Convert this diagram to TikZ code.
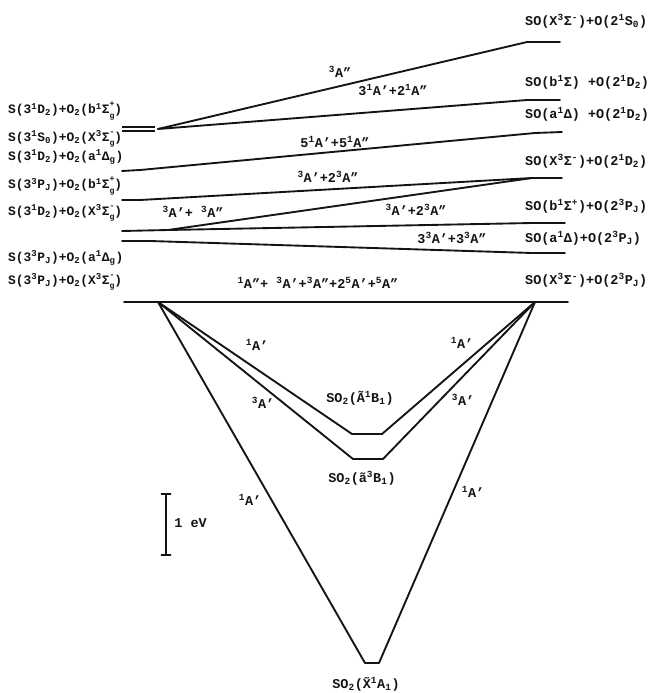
\documentclass[tikz,border=0pt]{standalone}
\usepackage{fontspec}
\setmainfont{Liberation Mono}
\usepackage{amsmath}
\usetikzlibrary{positioning}
\definecolor{ink}{HTML}{141414}
\newcommand\us[1]{\ensuremath{^{\text{#1}}}}
\newcommand\ds[1]{\ensuremath{_{\text{#1}}}}
\newcommand\uds[2]{\rlap{\raisebox{1.0ex}{\fontsize{7}{7}\selectfont#1}}\raisebox{-0.65ex}{\fontsize{7}{7}\selectfont#2}}
\tikzset{
  lvl/.style={draw=ink,line width=1.6pt,line cap=round,line join=round},
  dbl/.style={draw=ink,line width=0.9pt},
  elab/.style={inner sep=0pt,anchor=west,font=\fontsize{11.5}{13}\selectfont\bfseries,text=ink},
  elabl/.style={elab,font=\fontsize{11}{12}\selectfont\bfseries},
  slab/.style={inner sep=0pt,font=\fontsize{11.5}{13}\selectfont\bfseries,text=ink},
}

\begin{document}
\begin{tikzpicture}[x=0.03cm,y=-0.03cm]
  \useasboundingbox (0,0) rectangle (654,693);

  % asymptotes S + O2 (left)
  \foreach \i/\y/\lbl in {
    1/111/{S(3\us{1}D\ds{2})+O\ds{2}(b\us{1}Σ\uds{+}{g})},
    2/139/{S(3\us{1}S\ds{0})+O\ds{2}(X\us{3}Σ\uds{-}{g})},
    3/157/{S(3\us{1}D\ds{2})+O\ds{2}(a\us{1}Δ\ds{g})},
    4/186/{S(3\us{3}P\ds{J})+O\ds{2}(b\us{1}Σ\uds{+}{g})},
    5/213/{S(3\us{1}D\ds{2})+O\ds{2}(X\us{3}Σ\uds{-}{g})},
    6/258/{S(3\us{3}P\ds{J})+O\ds{2}(a\us{1}Δ\ds{g})},
    7/282/{S(3\us{3}P\ds{J})+O\ds{2}(X\us{3}Σ\uds{-}{g})}}{
    \node[elabl] (L\i) at (8,\y) {\lbl};
  }

  % asymptotes SO + O (right)
  \foreach \i/\y/\lbl in {
    1/21/{SO(X\us{3}Σ\us{-})+O(2\us{1}S\ds{0})},
    2/82/{SO(b\us{1}Σ) +O(2\us{1}D\ds{2})},
    3/114/{SO(a\us{1}Δ) +O(2\us{1}D\ds{2})},
    4/161/{SO(X\us{3}Σ\us{-})+O(2\us{1}D\ds{2})},
    5/206/{SO(b\us{1}Σ\us{+})+O(2\us{3}P\ds{J})},
    6/238/{SO(a\us{1}Δ)+O(2\us{3}P\ds{J})},
    7/280/{SO(X\us{3}Σ\us{-})+O(2\us{3}P\ds{J})}}{
    \node[elab] (R\i) at (525,\y) {\lbl};
  }

  % level ends
  \coordinate (a1) at (122,127); \coordinate (a2) at (155,127);
  \coordinate (b1) at (122,131); \coordinate (b2) at (155,131);
  \coordinate (ab) at (158,129);
  \coordinate (c1) at (122,171); \coordinate (c2) at (140,170);
  \coordinate (d1) at (122,200); \coordinate (d2) at (140,200);
  \coordinate (e1) at (122,231); \coordinate (e2) at (168,230);
  \coordinate (f1) at (122,241); \coordinate (f2) at (150,241);
  \coordinate (P) at (158,302);   \coordinate (Q) at (535,302);
  \coordinate (g1) at (124,302); \coordinate (g2) at (568,302);
  \coordinate (r1a) at (527,42);  \coordinate (r1b) at (560,42);
  \coordinate (r2a) at (527,100); \coordinate (r2b) at (560,100);
  \coordinate (r3a) at (535,133); \coordinate (r3b) at (562,132);
  \coordinate (r4a) at (532,178); \coordinate (r4b) at (562,178);
  \coordinate (r5a) at (532,223); \coordinate (r5b) at (565,223);
  \coordinate (r6a) at (532,253); \coordinate (r6b) at (565,253);

  % correlation lines
  \draw[dbl] (a1) -- (a2);
  \draw[dbl] (b1) -- (b2);
  \draw[lvl] (ab) -- (r1a) -- (r1b);
  \draw[lvl] (ab) -- (r2a) -- (r2b);
  \draw[lvl] (c1) -- (c2) -- (r3a) -- (r3b);
  \draw[lvl] (d1) -- (d2) -- (r4a) -- (r4b);
  \draw[lvl] (e1) -- (e2) -- (r4a);
  \draw[lvl] (e2) -- (r5a) -- (r5b);
  \draw[lvl] (f1) -- (f2) -- (r6a) -- (r6b);
  \draw[lvl] (g1) -- (g2);

  \node[slab] (s1) at (340,72)  {\us{3}A"};
  \node[slab] (s2) at (393,90)  {3\us{1}A'+2\us{1}A"};
  \node[slab] (s3) at (335,142) {5\us{1}A'+5\us{1}A"};
  \node[slab] (s4) at (328,177) {\us{3}A'+2\us{3}A"};
  \node[slab] (s5) at (193,212) {\us{3}A'+ \us{3}A"};
  \node[slab] (s6) at (416,210) {\us{3}A'+2\us{3}A"};
  \node[slab] (s7) at (452,238) {3\us{3}A'+3\us{3}A"};
  \node[slab] (s8) at (318,283) {\us{1}A"+ \us{3}A'+\us{3}A"+2\us{5}A'+\us{5}A"};

  % SO2 wells
  \coordinate (A1) at (352,434); \coordinate (A2) at (382,434);
  \coordinate (B1) at (353,459); \coordinate (B2) at (383,459);
  \coordinate (X1) at (365,663); \coordinate (X2) at (379,663);
  \draw[lvl] (P) -- (A1) -- (A2) -- (Q);
  \draw[lvl] (P) -- (B1) -- (B2) -- (Q);
  \draw[lvl] (P) -- (X1) -- (X2) -- (Q);

  \node[slab] (wA) at (360,398) {SO\ds{2}(\~{A}\us{1}B\ds{1})};
  \node[slab] (wB) at (362,478) {SO\ds{2}(\~{a}\us{3}B\ds{1})};
  \node[slab] (wX) at (366,684) {SO\ds{2}(\~{X}\us{1}A\ds{1})};

  \node[slab] (t1) at (257,345) {\us{1}A'};
  \node[slab] (t2) at (462,343) {\us{1}A'};
  \node[slab] (t3) at (263,403) {\us{3}A'};
  \node[slab] (t4) at (463,400) {\us{3}A'};
  \node[slab] (t5) at (250,500) {\us{1}A'};
  \node[slab] (t6) at (473,492) {\us{1}A'};

  % 1 eV bar
  \coordinate (bt) at (166,494); \coordinate (bb) at (166,555);
  \coordinate (bm) at (166,523);
  \draw[lvl,line width=1.2pt] (bt) -- (bb);
  \draw[lvl,line width=1.2pt] ([xshift=-4pt]bt) -- ([xshift=4pt]bt);
  \draw[lvl,line width=1.2pt] ([xshift=-4pt]bb) -- ([xshift=4pt]bb);
  \node[slab,right=7pt of bm] (ev) {1 eV};
\end{tikzpicture}
\end{document}
